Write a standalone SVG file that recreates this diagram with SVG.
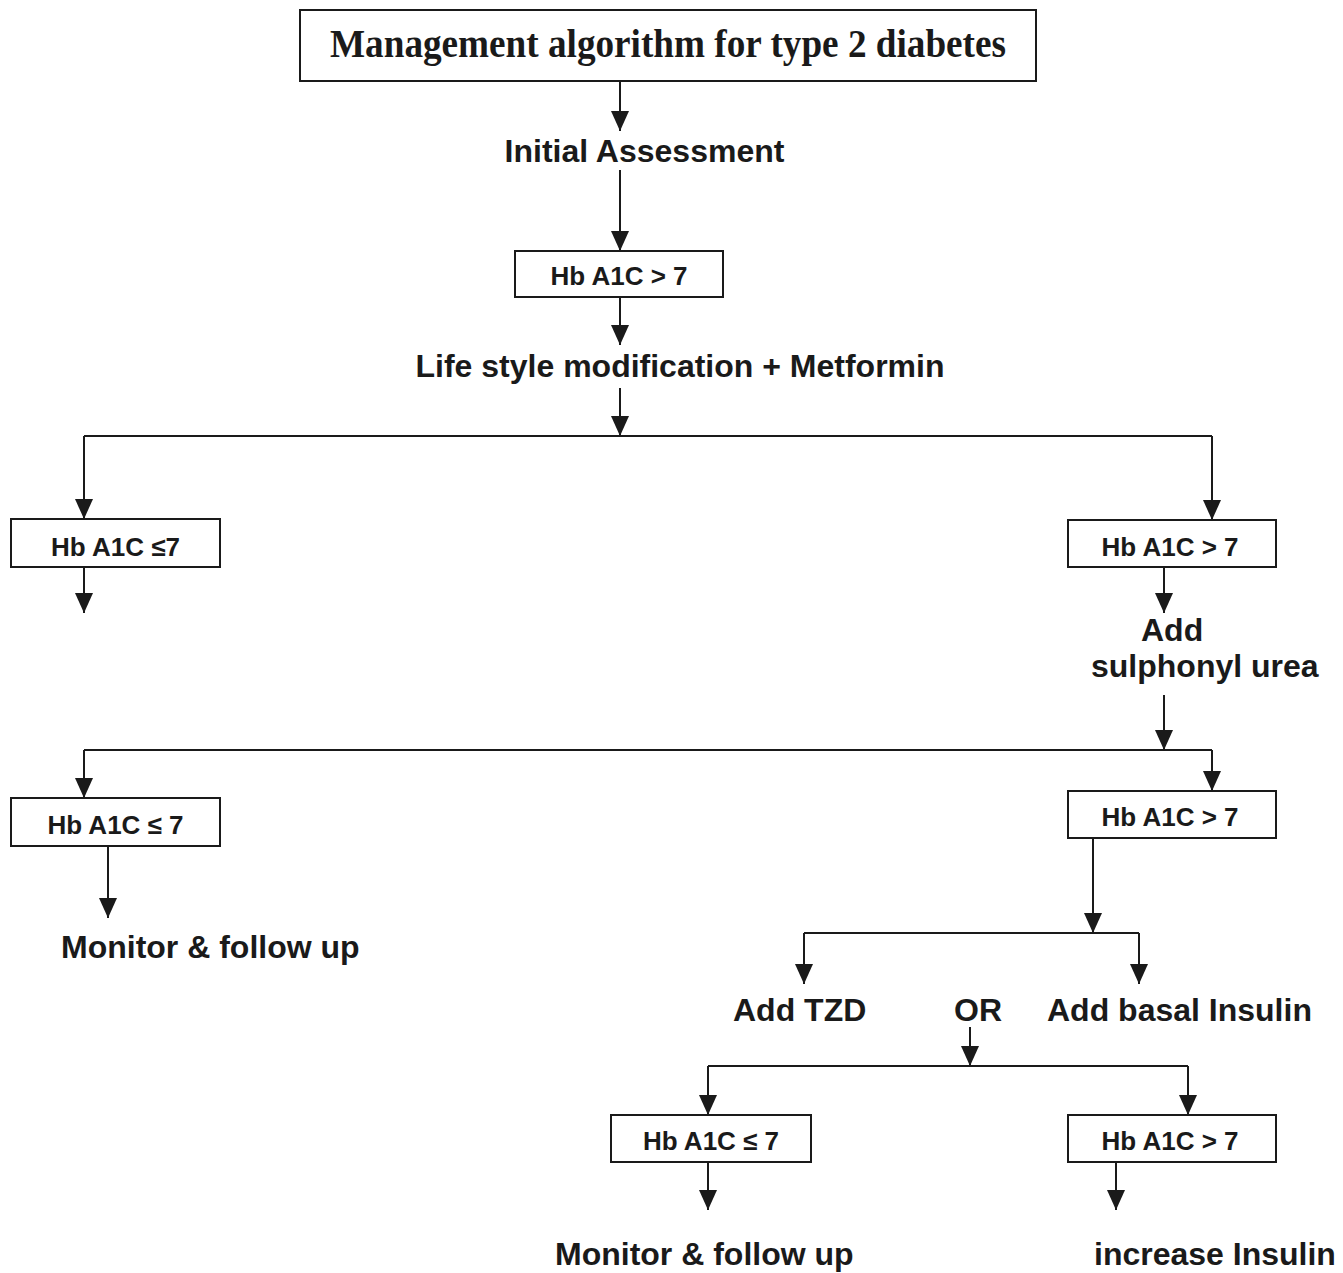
<svg xmlns="http://www.w3.org/2000/svg" width="1343" height="1273" viewBox="0 0 1343 1273">
<style>
.box{fill:#fff;stroke:#1a1a1a;stroke-width:2}
.t{font-family:"Liberation Sans",Arial,sans-serif;font-weight:bold;font-size:32px;fill:#1a1a1a}
.b{font-family:"Liberation Sans",Arial,sans-serif;font-weight:bold;font-size:26px;fill:#1a1a1a;text-anchor:middle}
.title{font-family:"Liberation Serif","Times New Roman",serif;font-weight:bold;font-size:39px;fill:#1a1a1a}
.c{fill:none;stroke:#1a1a1a;stroke-width:2}
.a{marker-end:url(#ah)}
</style>
<defs>
<marker id="ah" markerUnits="userSpaceOnUse" viewBox="0 0 20 18" refX="20" refY="9" markerWidth="20" markerHeight="18" orient="auto">
<path d="M0,0 L20,9 L0,18 z" fill="#1a1a1a"/>
</marker>
</defs>
<rect width="1343" height="1273" fill="#fff"/>
<g id="connectors">
<path class="c a" d="M620,81 V131"/>
<path class="c a" d="M620,170 V251"/>
<path class="c a" d="M620,297 V345"/>
<path class="c a" d="M620,388 V436"/>
<path class="c" d="M84,436 H1212"/>
<path class="c a" d="M84,436 V519"/>
<path class="c a" d="M1212,436 V520"/>
<path class="c a" d="M84,567 V613"/>
<path class="c a" d="M1164,567 V613"/>
<path class="c a" d="M1164,695 V750"/>
<path class="c" d="M84,750 H1212"/>
<path class="c a" d="M84,750 V798"/>
<path class="c a" d="M1212,750 V791"/>
<path class="c a" d="M108,846 V918"/>
<path class="c a" d="M1093,838 V933"/>
<path class="c" d="M804,933 H1139"/>
<path class="c a" d="M804,933 V984"/>
<path class="c a" d="M1139,933 V984"/>
<path class="c a" d="M970,1027 V1066"/>
<path class="c" d="M708,1066 H1188"/>
<path class="c a" d="M708,1066 V1115"/>
<path class="c a" d="M1188,1066 V1115"/>
<path class="c a" d="M708,1162 V1210"/>
<path class="c a" d="M1116,1162 V1210"/>
</g>
<g id="title">
<rect class="box" x="300" y="10" width="736" height="71"/>
<text class="title" x="330" y="57" textLength="676" lengthAdjust="spacingAndGlyphs">Management algorithm for type 2 diabetes</text>
</g>
<g id="initial"><text class="t" x="644.5" y="162" text-anchor="middle">Initial Assessment</text></g>
<g id="hb1">
<rect class="box" x="515" y="251" width="208" height="46"/>
<text class="b" x="619" y="285">Hb A1C &gt; 7</text>
</g>
<g id="lifestyle"><text class="t" x="680" y="377" text-anchor="middle">Life style modification + Metformin</text></g>
<g id="hbL1">
<rect class="box" x="11" y="519" width="209" height="48"/>
<text class="b" x="115.5" y="556">Hb A1C ≤7</text>
</g>
<g id="hbR1">
<rect class="box" x="1068" y="520" width="208" height="47"/>
<text class="b" x="1170" y="556">Hb A1C &gt; 7</text>
</g>
<g id="addsu">
<text class="t" x="1141" y="641">Add</text>
<text class="t" x="1091" y="677">sulphonyl urea</text>
</g>
<g id="hbL2">
<rect class="box" x="11" y="798" width="209" height="48"/>
<text class="b" x="115.5" y="834">Hb A1C ≤ 7</text>
</g>
<g id="monitor1"><text class="t" x="61" y="958">Monitor &amp; follow up</text></g>
<g id="hbR2">
<rect class="box" x="1068" y="791" width="208" height="47"/>
<text class="b" x="1170" y="826">Hb A1C &gt; 7</text>
</g>
<g id="tzd"><text class="t" x="733" y="1021">Add TZD</text></g>
<g id="or"><text class="t" x="954" y="1021">OR</text></g>
<g id="basal"><text class="t" x="1047" y="1021">Add basal Insulin</text></g>
<g id="hbL3">
<rect class="box" x="611" y="1115" width="200" height="47"/>
<text class="b" x="711" y="1150">Hb A1C ≤ 7</text>
</g>
<g id="hbR3">
<rect class="box" x="1068" y="1115" width="208" height="47"/>
<text class="b" x="1170" y="1150">Hb A1C &gt; 7</text>
</g>
<g id="monitor2"><text class="t" x="555" y="1265">Monitor &amp; follow up</text></g>
<g id="increase"><text class="t" x="1094" y="1265">increase Insulin</text></g>
</svg>
